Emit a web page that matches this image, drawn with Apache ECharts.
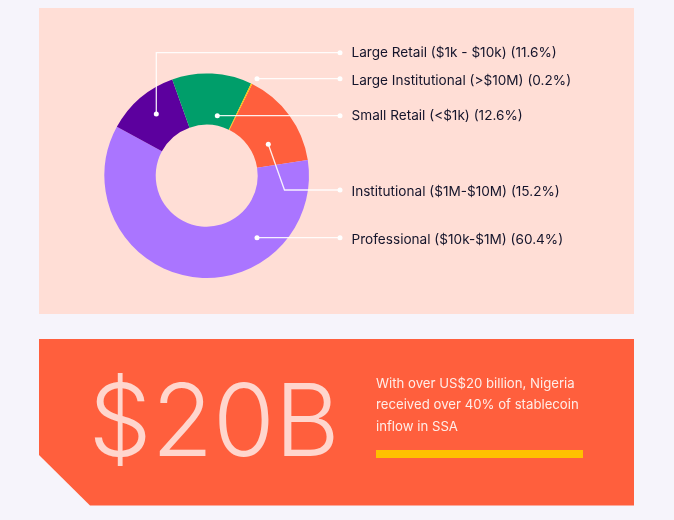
<!DOCTYPE html>
<html><head><meta charset="utf-8">
<style>html,body{margin:0;padding:0;background:#F6F4FB}#c{width:674px;height:520px}</style>
<script src="https://cdn.jsdelivr.net/npm/echarts@6/dist/echarts.min.js"></script>
</head><body><div id="c"></div>
<script>
const categories = ['Institutional ($1M-$10M)','Professional ($10k-$1M)','Large Retail ($1k - $10k)','Small Retail (<$1k)','Large Institutional (>$10M)'];
const shares = [15.2,60.4,11.6,12.6,0.2];
const colors = ['#FF5F3D','#AA75FF','#5C009E','#009E6A','#FFC000'];
const labelY = [191.5,239.5,52.5,115.5,80.5];
const leaders = [
  [[268.3,144.3],[284.5,190],[340,190]],
  [[257,237.7],[340,237.7]],
  [[156.3,114],[156.3,52.7],[340,52.7]],
  [[217.3,115.7],[340,115.7]],
  [[257,78.7],[340,78.7]]
];
const bigNumber = '$20B';
const noteLines = ['With over US$20 billion, Nigeria','received over 40% of stablecoin','inflow in SSA'];
const noteY = [384,405.5,427];
const font = 'Inter';
const chart = echarts.init(document.getElementById('c'),null,{renderer:'canvas'});
const graphics = [
  {type:'rect',z:-10,shape:{x:39,y:8,width:595,height:306},style:{fill:'#FFDED6'}},
  {type:'polygon',z:-10,shape:{points:[[39,339],[634,339],[634,505.5],[90,505.5],[39,455]]},style:{fill:'#FF5F3D'}},
  {type:'rect',z:5,shape:{x:376,y:450,width:207,height:8},style:{fill:'#FFC000'}},
  {type:'text',z:5,x:88.5,y:426,style:{text:bigNumber,fill:'#FFD6CD',font:'300 100px '+font,textVerticalAlign:'middle'}}
];
noteLines.forEach((t,i)=>graphics.push({type:'text',z:5,x:376,y:noteY[i],style:{text:t,fill:'#FFEDE8',font:'400 13.2px '+font,textVerticalAlign:'middle'}}));
leaders.forEach(p=>{
  graphics.push({type:'circle',z:50,zlevel:1,shape:{cx:p[0][0],cy:p[0][1],r:2.5},style:{fill:'#fff'}});
  graphics.push({type:'circle',z:50,zlevel:1,shape:{cx:p[p.length-1][0],cy:p[p.length-1][1],r:2.5},style:{fill:'#fff'}});
  graphics.push({type:'polyline',z:50,zlevel:1,shape:{points:p},style:{stroke:'rgba(255,255,255,0.9)',lineWidth:1.3,fill:null}});
});
chart.setOption({
  animation:false,
  backgroundColor:'#F6F4FB',
  color:colors,
  graphic:graphics,
  series:[{
    type:'pie',
    center:[206.7,175.7],
    radius:[51,102.3],
    startAngle:63.6,
    silent:true,
    label:{show:true,position:'outside',formatter:'{b} ({c}%)',color:'#14142B',fontFamily:font,fontSize:13.6,overflow:'none'},
    labelLine:{show:false},
    labelLayout:p=>({x:351.5,y:labelY[p.dataIndex],align:'left',verticalAlign:'middle',hideOverlap:false}),
    data:categories.map((c,i)=>({name:c,value:shares[i]}))
  }]
});
</script></body></html>
